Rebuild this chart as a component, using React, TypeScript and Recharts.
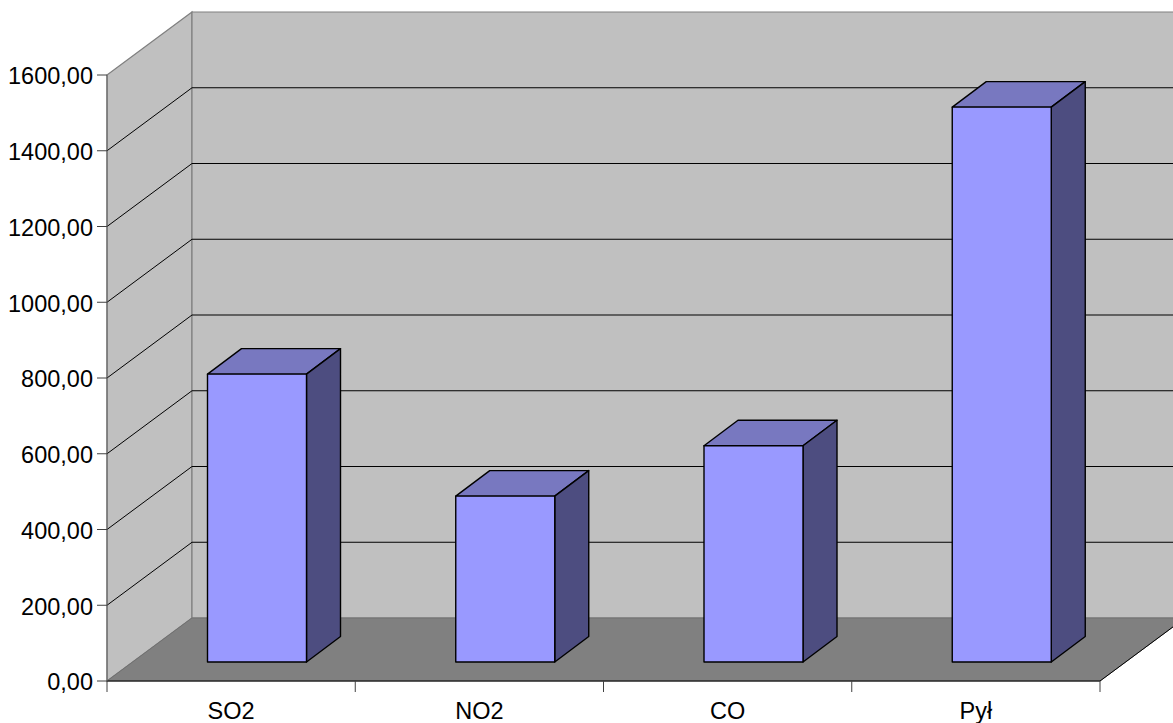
import React from "react";
import { BarChart, Bar, XAxis, YAxis, CartesianGrid } from "recharts";

const categories = ["SO2", "NO2", "CO", "Pył"];
const values = [760, 438, 571, 1465];
const yTicks = [0, 200, 400, 600, 800, 1000, 1200, 1400, 1600];

const W = 1173;
const H = 723;
const axisW = 107;
const axisH = 42;
const margin = { top: 75, right: 73, bottom: 0, left: 0 };
const plotL = axisW;
const plotR = W - margin.right;
const plotT = margin.top;
const plotB = H - axisH;
const band = (plotR - plotL) / categories.length;
const DX = 85;
const DY = 63;
const BAR_DX = 34;
const BAR_DY = 25.5;
const SHIFT_X = 25.5;
const SHIFT_Y = 19;

const FONT = "'Liberation Sans', Arial, sans-serif";
const FONT_SIZE = 23.5;

const data = categories.map((name, i) => ({ name, value: values[i] }));

const Walls = () => (
  <g>
    <polygon
      points={`${plotL},${plotT} ${plotL + DX},${plotT - DY} ${plotL + DX},${plotB - DY} ${plotL},${plotB}`}
      fill="#c0c0c0"
      stroke="#808080"
      strokeWidth={1.2}
    />
    <polygon
      points={`${plotL + DX},${plotT - DY} ${plotR + DX},${plotT - DY} ${plotR + DX},${plotB - DY} ${plotL + DX},${plotB - DY}`}
      fill="#c0c0c0"
      stroke="#808080"
      strokeWidth={1.2}
    />
    <polygon
      points={`${plotL},${plotB} ${plotL + DX},${plotB - DY} ${plotR + DX},${plotB - DY} ${plotR},${plotB}`}
      fill="#808080"
      stroke="#707070"
      strokeWidth={1}
    />
    <line x1={plotR} y1={plotB} x2={plotR + DX} y2={plotB - DY} stroke="#000" strokeWidth={1} />
  </g>
);

const GridLine = (props: any) => {
  const { x1, y1, x2, y2, index } = props;
  const isEdge = Math.abs(y1 - plotB) < 1 || Math.abs(y1 - plotT) < 1;
  return (
    <g key={index}>
      {index === 0 && <Walls />}
      {!isEdge && (
        <polyline
          points={`${x1},${y1} ${x1 + DX},${y1 - DY} ${x2 + DX},${y2 - DY}`}
          fill="none"
          stroke="#000"
          strokeWidth={1}
        />
      )}
    </g>
  );
};

const Bar3D = (props: any) => {
  const { x, y, width, height } = props;
  const l = x + SHIFT_X;
  const r = l + width;
  const t = y - SHIFT_Y;
  const b = t + height;
  const common = { stroke: "#000", strokeWidth: 1.4, strokeLinejoin: "round" as const };
  return (
    <g>
      <polygon
        points={`${l},${t} ${r},${t} ${r + BAR_DX},${t - BAR_DY} ${l + BAR_DX},${t - BAR_DY}`}
        fill="#7878c0"
        {...common}
      />
      <polygon
        points={`${r},${t} ${r + BAR_DX},${t - BAR_DY} ${r + BAR_DX},${b - BAR_DY} ${r},${b}`}
        fill="#4d4d80"
        {...common}
      />
      <rect x={l} y={t} width={width} height={height} fill="#9999ff" {...common} />
    </g>
  );
};

const XTick = (props: any) => {
  const { x, payload, index } = props;
  const left = x - band / 2;
  return (
    <g>
      <line x1={left} y1={plotB} x2={left} y2={plotB + 11} stroke="#404040" />
      {index === categories.length - 1 && (
        <line x1={left + band} y1={plotB} x2={left + band} y2={plotB + 11} stroke="#404040" />
      )}
      <text x={x} y={plotB + 38} textAnchor="middle" fontFamily={FONT} fontSize={FONT_SIZE} fill="#000">
        {payload.value}
      </text>
    </g>
  );
};

const fmt = (v: number) => v.toFixed(2).replace(".", ",");

export default function App() {
  return (
    <div style={{ position: "absolute", left: 0, top: 0, width: W, height: H, overflow: "hidden", background: "#fff" }}>
      <BarChart width={W} height={H} data={data} margin={margin} barSize={99}>
        <CartesianGrid vertical={false} horizontal={GridLine} />
        <XAxis
          dataKey="name"
          axisLine={{ stroke: "#000", strokeWidth: 1.2 }}
          tickLine={false}
          tick={XTick}
          interval={0}
          height={axisH}
        />
        <YAxis
          domain={[0, 1600]}
          ticks={yTicks}
          interval={0}
          width={axisW}
          tickFormatter={fmt}
          axisLine={{ stroke: "#606060" }}
          tickLine={{ stroke: "#404040" }}
          tickSize={10}
          tickMargin={4}
          tick={{ fontFamily: FONT, fontSize: FONT_SIZE, fill: "#000", dy: 1 }}
        />
        <Bar dataKey="value" shape={Bar3D} isAnimationActive={false} />
      </BarChart>
    </div>
  );
}
